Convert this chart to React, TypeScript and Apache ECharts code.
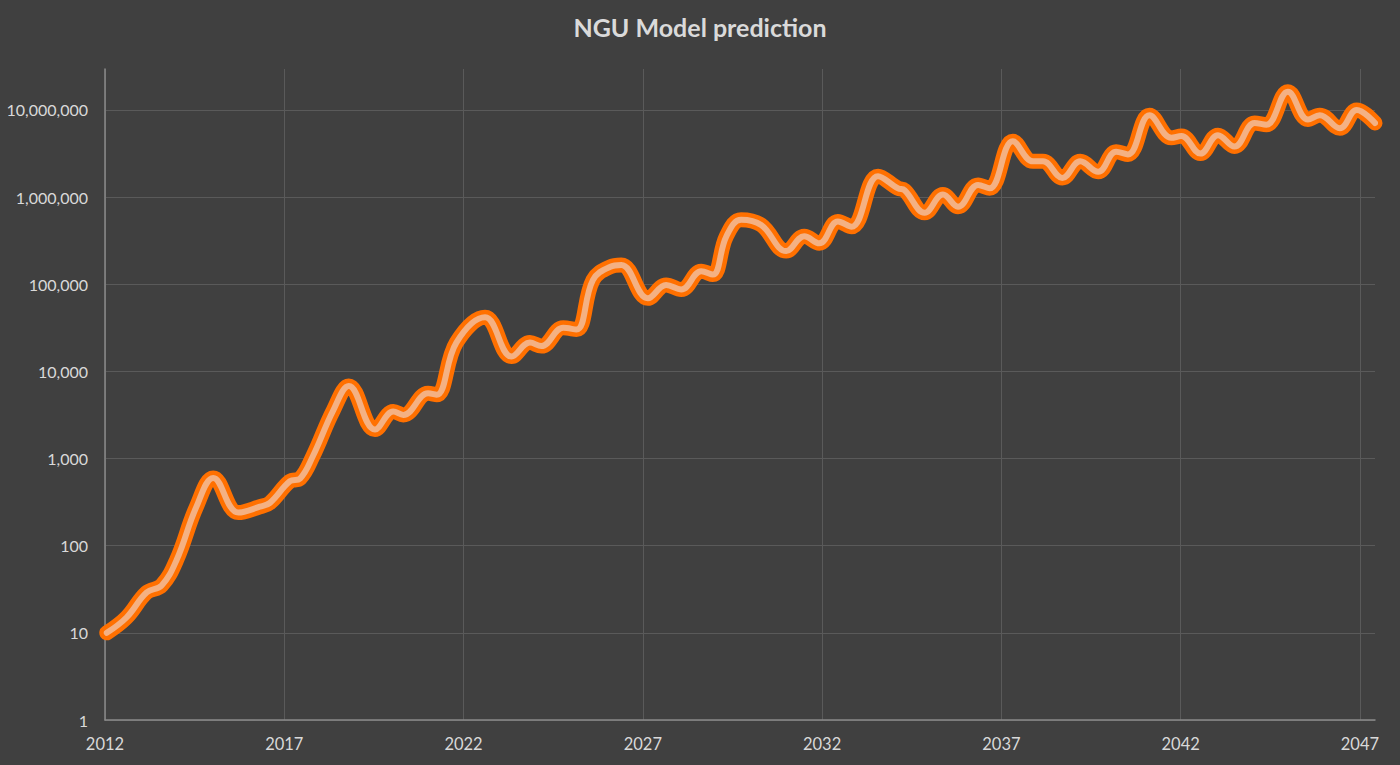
import React, { useEffect, useRef } from 'react';
import * as echarts from 'echarts';

// years (decimal) and predicted values
const years = [
  2012.05, 2012.6, 2013.16, 2013.58, 2014.0, 2014.55, 2015.02, 2015.72, 2016.32, 2016.6,
  2017.16, 2017.44, 2017.8, 2018.37, 2018.8, 2019.53, 2020.04, 2020.32, 2021.01, 2021.25,
  2021.8, 2022.6, 2023.34, 2023.85, 2024.17, 2024.78, 2025.15, 2025.61, 2026.08, 2026.4,
  2027.14, 2027.65, 2028.07, 2028.63, 2028.95, 2029.33, 2029.74, 2030.3, 2031.0, 2031.5,
  2031.92, 2032.44, 2032.82, 2033.56, 2034.12, 2034.3, 2034.86, 2035.37, 2035.79, 2036.35,
  2036.67, 2037.32, 2037.88, 2038.16, 2038.7, 2039.2, 2039.7, 2040.2, 2040.53, 2041.13,
  2041.74, 2042.02, 2042.55, 2043.04, 2043.5, 2044.06, 2044.39, 2044.99, 2045.55, 2045.88,
  2046.44, 2046.91, 2047.42,
];

const values = [
  10, 15, 29, 35, 69, 280, 600, 240, 280, 310,
  550, 590, 1070, 3600, 6800, 2150, 3470, 3160, 5600, 5400,
  21400, 41700, 14800, 21400, 19500, 31600, 30200, 112000, 158000, 166000,
  69000, 98000, 87000, 141000, 129000, 355000, 550000, 479000, 240000, 355000,
  295000, 525000, 457000, 1740000, 1260000, 1200000, 660000, 1070000, 776000, 1380000,
  1260000, 4370000, 2570000, 2570000, 1660000, 2570000, 1950000, 3310000, 3090000, 8700000,
  4790000, 5010000, 3160000, 5130000, 3800000, 7080000, 6760000, 16200000, 7760000, 8710000,
  6170000, 10000000, 7080000,
];

const startYear = 2012;
const endYear = 2047.42;
const yMax = 29500000;

const App: React.FC = () => {
  const chartRef = useRef<HTMLDivElement>(null);

  useEffect(() => {
    if (!chartRef.current) return;
    const chart = echarts.init(chartRef.current, undefined, { renderer: 'svg' });

    const points = years.map((y, i) => [y - startYear, values[i]]);
    const font = 'Lato, "Open Sans", sans-serif';

    chart.setOption({
      animation: false,
      backgroundColor: '#404040',
      title: {
        text: 'NGU Model prediction',
        left: 'center',
        top: 9,
        textStyle: { color: '#dadada', fontSize: 25, fontWeight: 'bold', fontFamily: font },
      },
      grid: { left: 105, right: 25, top: 69, bottom: 45 },
      xAxis: {
        type: 'value',
        min: 0,
        max: endYear - startYear,
        interval: 5,
        axisLine: { onZero: false, lineStyle: { color: '#8a8a8a', width: 1.5 } },
        axisTick: { show: false },
        axisLabel: {
          color: '#d9d9d9',
          fontSize: 16.5,
          fontFamily: font,
          margin: 15,
          showMaxLabel: false,
          formatter: (v: number) => String(startYear + v),
        },
        splitLine: { show: true, showMaxLine: false, lineStyle: { color: '#5a5a5a', width: 1 } },
      },
      yAxis: {
        type: 'log',
        logBase: 10,
        min: 1,
        max: yMax,
        axisLine: { show: true, lineStyle: { color: '#8a8a8a', width: 1.5 } },
        axisTick: { show: false },
        axisLabel: {
          color: '#d9d9d9',
          fontSize: 16,
          fontFamily: font,
          margin: 17,
          showMaxLabel: false,
          formatter: (v: number) => Math.round(v).toLocaleString('en-US'),
        },
        splitLine: { show: true, showMaxLine: false, lineStyle: { color: '#5a5a5a', width: 1 } },
      },
      series: [
        {
          type: 'line',
          data: points,
          smooth: 0.4,
          symbol: 'none',
          lineStyle: { color: '#ff7000', width: 15, cap: 'round', join: 'round' },
        },
        {
          type: 'line',
          data: points,
          smooth: 0.4,
          symbol: 'none',
          lineStyle: { color: '#f4b183', width: 6, cap: 'round', join: 'round' },
        },
      ],
    });

    return () => chart.dispose();
  }, []);

  return (
    <div
      ref={chartRef}
      style={{ position: 'fixed', left: 0, top: 0, width: 1400, height: 765 }}
    />
  );
};

export default App;
